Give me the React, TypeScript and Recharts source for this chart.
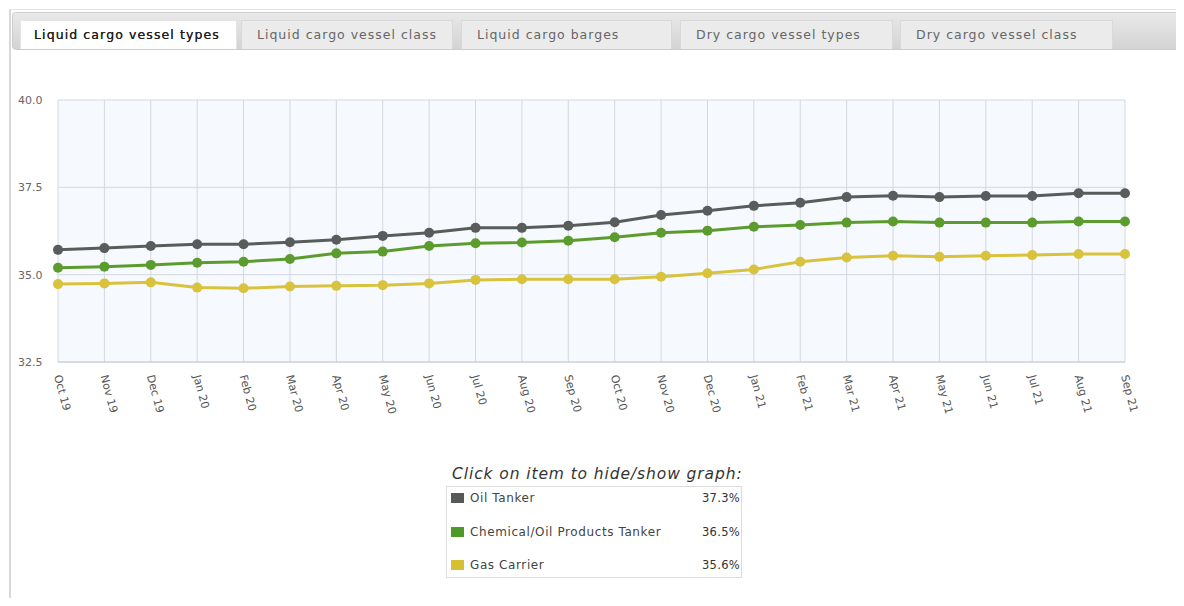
import React from "react";
import { LineChart, Line, XAxis, YAxis, CartesianGrid } from "recharts";

const months = [
  "Oct 19", "Nov 19", "Dec 19", "Jan 20", "Feb 20", "Mar 20", "Apr 20", "May 20",
  "Jun 20", "Jul 20", "Aug 20", "Sep 20", "Oct 20", "Nov 20", "Dec 20", "Jan 21",
  "Feb 21", "Mar 21", "Apr 21", "May 21", "Jun 21", "Jul 21", "Aug 21", "Sep 21",
];

const oilTanker = [
  35.71, 35.76, 35.82, 35.87, 35.87, 35.93, 36.0, 36.11, 36.2, 36.34, 36.34, 36.4,
  36.5, 36.71, 36.83, 36.97, 37.06, 37.22, 37.26, 37.22, 37.25, 37.25, 37.33, 37.33,
];
const chemicalTanker = [
  35.2, 35.23, 35.28, 35.34, 35.37, 35.45, 35.61, 35.66, 35.82, 35.9, 35.92, 35.97,
  36.07, 36.2, 36.26, 36.37, 36.42, 36.49, 36.52, 36.49, 36.49, 36.49, 36.52, 36.52,
];
const gasCarrier = [
  34.73, 34.75, 34.78, 34.63, 34.61, 34.66, 34.68, 34.7, 34.75, 34.85, 34.87, 34.87,
  34.87, 34.94, 35.04, 35.15, 35.37, 35.49, 35.54, 35.51, 35.54, 35.56, 35.59, 35.59,
];

const yTicks = [32.5, 35, 37.5, 40];
const tabLabels = [
  "Liquid cargo vessel types",
  "Liquid cargo vessel class",
  "Liquid cargo barges",
  "Dry cargo vessel types",
  "Dry cargo vessel class",
];

const series = [
  { key: "oil", name: "Oil Tanker", values: oilTanker, color: "#585d5c", swatch: "#555a59" },
  { key: "chem", name: "Chemical/Oil Products Tanker", values: chemicalTanker, color: "#5c9c2e", swatch: "#4f9a26" },
  { key: "gas", name: "Gas Carrier", values: gasCarrier, color: "#d9c23c", swatch: "#d6bf32" },
];

const data = months.map((m, i) => {
  const row: Record<string, string | number> = { month: m };
  series.forEach((s) => (row[s.key] = s.values[i]));
  return row;
});

const FONT = "'DejaVu Sans', Verdana, sans-serif";
const tabPos = [
  [20, 217],
  [241, 212],
  [461, 211],
  [680, 213],
  [900, 213],
];

function MonthTick({ x, y, payload }: any) {
  return (
    <text
      transform={`translate(${x - 4},${y + 6}) rotate(75)`}
      textAnchor="start"
      fontSize={11}
      fill="#555"
      fontFamily={FONT}
    >
      {payload.value}
    </text>
  );
}

function ValueTick({ y, payload }: any) {
  return (
    <text x={18} y={y + 4} fontSize={11} fill="#666" fontFamily={FONT}>
      {Number(payload.value).toFixed(1)}
    </text>
  );
}

export default function App() {
  return (
    <div
      style={{
        position: "relative",
        width: 1184,
        height: 606,
        margin: -8,
        overflow: "hidden",
        background: "#fff",
        fontFamily: FONT,
      }}
    >
      {/* panel frame */}
      <div
        style={{
          position: "absolute",
          left: 9,
          top: 9,
          width: 1200,
          height: 620,
          borderLeft: "2px solid #d8d8d8",
          borderTop: "1px solid #e2e2e2",
        }}
      />
      {/* tab bar */}
      <div
        style={{
          position: "absolute",
          left: 12,
          top: 12,
          width: 1168,
          height: 36,
          background: "linear-gradient(#e9e9e9, #d3d3d3)",
          border: "1px solid #cdcdcd",
          borderRadius: 4,
        }}
      />
      {tabLabels.map((t, i) => {
        const active = i === 0;
        return (
          <div
            key={t}
            style={{
              position: "absolute",
              left: tabPos[i][0],
              top: 20,
              width: tabPos[i][1],
              height: 29,
              boxSizing: "border-box",
              background: active ? "#fff" : "#ebebeb",
              border: active ? "1px solid #e4e4e4" : "1px solid #d9d9d9",
              borderBottom: "none",
              paddingLeft: active ? 13 : 15,
              lineHeight: "28px",
              fontSize: 12.5,
              letterSpacing: active ? 1.1 : 1,
              color: active ? "#222" : "#666",
              fontWeight: 400,
              textShadow: active ? "0 0 0.5px #222" : "none",
              whiteSpace: "nowrap",
            }}
          >
            {t}
          </div>
        );
      })}

      <div style={{ position: "absolute", left: 0, top: 0 }}>
        <LineChart
          width={1184}
          height={460}
          data={data}
          margin={{ top: 100, right: 59, bottom: 28, left: 8 }}
        >
          <CartesianGrid stroke="#d3d8e0" fill="#f6f9fd" vertical horizontal />
          <XAxis
            dataKey="month"
            interval={0}
            tickLine={false}
            axisLine={{ stroke: "#c8ccd2" }}
            height={70}
            tick={<MonthTick />}
          />
          <YAxis
            domain={[32.5, 40]}
            ticks={yTicks}
            width={50}
            axisLine={false}
            tickLine={false}
            tick={<ValueTick />}
          />
          {series.map((s) => (
            <Line
              key={s.key}
              dataKey={s.key}
              name={s.name}
              type="linear"
              stroke={s.color}
              strokeWidth={3}
              dot={{ r: 5, fill: s.color, stroke: s.color, strokeWidth: 0 }}
              isAnimationActive={false}
            />
          ))}
        </LineChart>
      </div>

      {/* legend */}
      <div
        style={{
          position: "absolute",
          left: 452,
          top: 465,
          fontSize: 15.5,
          letterSpacing: 0.9,
          fontStyle: "italic",
          color: "#333",
          whiteSpace: "nowrap",
        }}
      >
        Click on item to hide/show graph:
      </div>
      <div
        style={{
          position: "absolute",
          left: 446,
          top: 486,
          width: 296,
          height: 92,
          boxSizing: "border-box",
          border: "1px solid #dcdcdc",
        }}
      >
        {series.map((s, i) => (
          <div
            key={s.key}
            style={{
              position: "absolute",
              left: 4,
              right: 1,
              top: 3 + i * 33.5,
              height: 16,
              display: "flex",
              alignItems: "center",
              fontSize: 12,
              color: "#444",
              whiteSpace: "nowrap",
            }}
          >
            <span style={{ width: 13, height: 10, background: s.swatch, marginRight: 6 }} />
            <span style={{ flex: 1, letterSpacing: 0.6 }}>{s.name}</span>
            <span style={{ color: "#333", fontSize: 11.5, letterSpacing: 0.3 }}>
              {s.values[s.values.length - 1].toFixed(1)}%
            </span>
          </div>
        ))}
      </div>
    </div>
  );
}
